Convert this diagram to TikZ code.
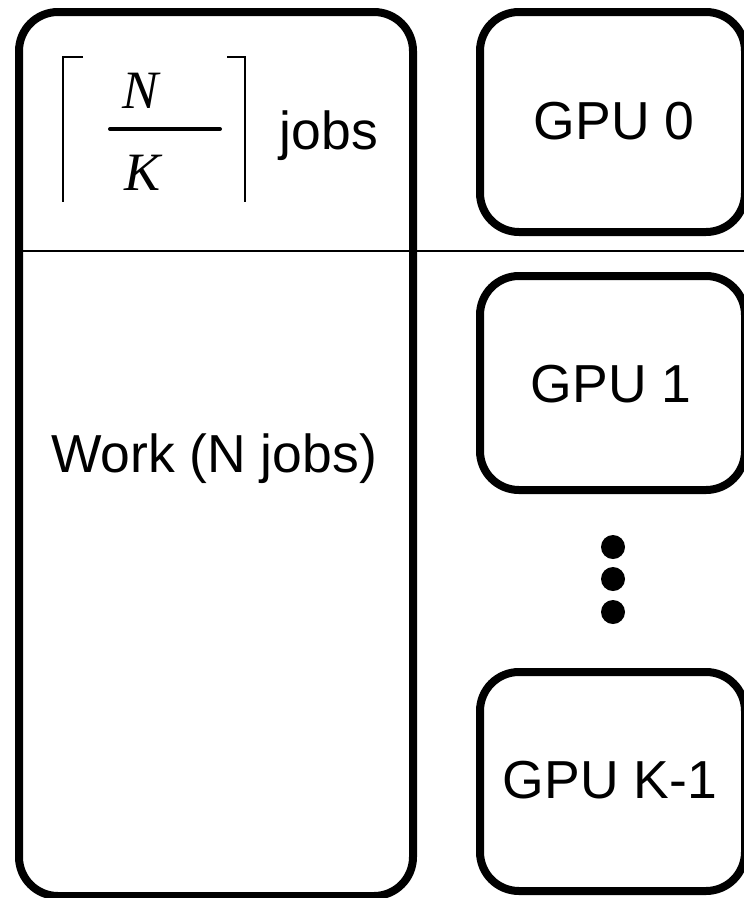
\documentclass[tikz,border=0pt]{standalone}
\usepackage{fontspec}
\setmainfont{Liberation Sans}
\newfontfamily\tms{Liberation Serif}
\begin{document}
\begin{tikzpicture}[x=1pt,y=-1pt,
  box/.style={draw=black, line width=8pt, rounded corners=39pt, fill=none, inner sep=0pt},
  lbl/.style={anchor=base, inner sep=0pt, font=\fontsize{53.5}{60}\selectfont},
  mth/.style={anchor=base, inner sep=0pt, font=\fontsize{54}{60}\selectfont\tms\itshape},
  brk/.style={line width=2.6pt},
  dot/.style={circle, fill=black, inner sep=0pt, minimum size=24pt}]
\useasboundingbox (0,0) rectangle (744,898);
\begin{scope}
\clip (0,0) rectangle (744,898);
% left work box
\node[box, minimum width=394pt, minimum height=884pt] (work) at (216,454) {};
% GPU boxes
\node[box, minimum width=265pt, minimum height=220pt] (g0) at (612.5,122) {};
\node[box, minimum width=265pt, minimum height=214pt] (g1) at (612.5,383) {};
\node[box, minimum width=265pt, minimum height=219pt] (gk) at (612.5,781.5) {};
% separator
\coordinate (sepL) at (19,251);
\coordinate (sepR) at (744,251);
\draw[line width=1.3pt] (sepL) -- (sepR);
\end{scope}
% texts
\node[lbl] (t0) at (614,139) {GPU 0};
\node[lbl] (t1) at (611,402) {GPU 1};
\node[lbl] (tk) at (610,798) {GPU K-1};
\node[lbl] (tw) at (214,472) {Work (N jobs)};
\node[lbl] (tj) at (329,149) {jobs};
% fraction
\node[mth] (nN) at (140.5,108) {N};
\node[mth] (nK) at (142.5,190) {K};
\coordinate (barL) at (110,129);
\coordinate (barR) at (220,129);
\draw[line width=4pt, line cap=round] (barL) -- (barR);
% ceiling brackets
\coordinate (lb0) at (83,57); \coordinate (lb1) at (63,57); \coordinate (lb2) at (63,202);
\coordinate (rb0) at (227,57); \coordinate (rb1) at (245,57); \coordinate (rb2) at (245,202);
\draw[brk] (lb0) -- (lb1) -- (lb2);
\draw[brk] (rb0) -- (rb1) -- (rb2);
% dots
\node[dot] (d1) at (613,547) {};
\node[dot] (d2) at (613,579) {};
\node[dot] (d3) at (613,612) {};
\end{tikzpicture}
\end{document}
